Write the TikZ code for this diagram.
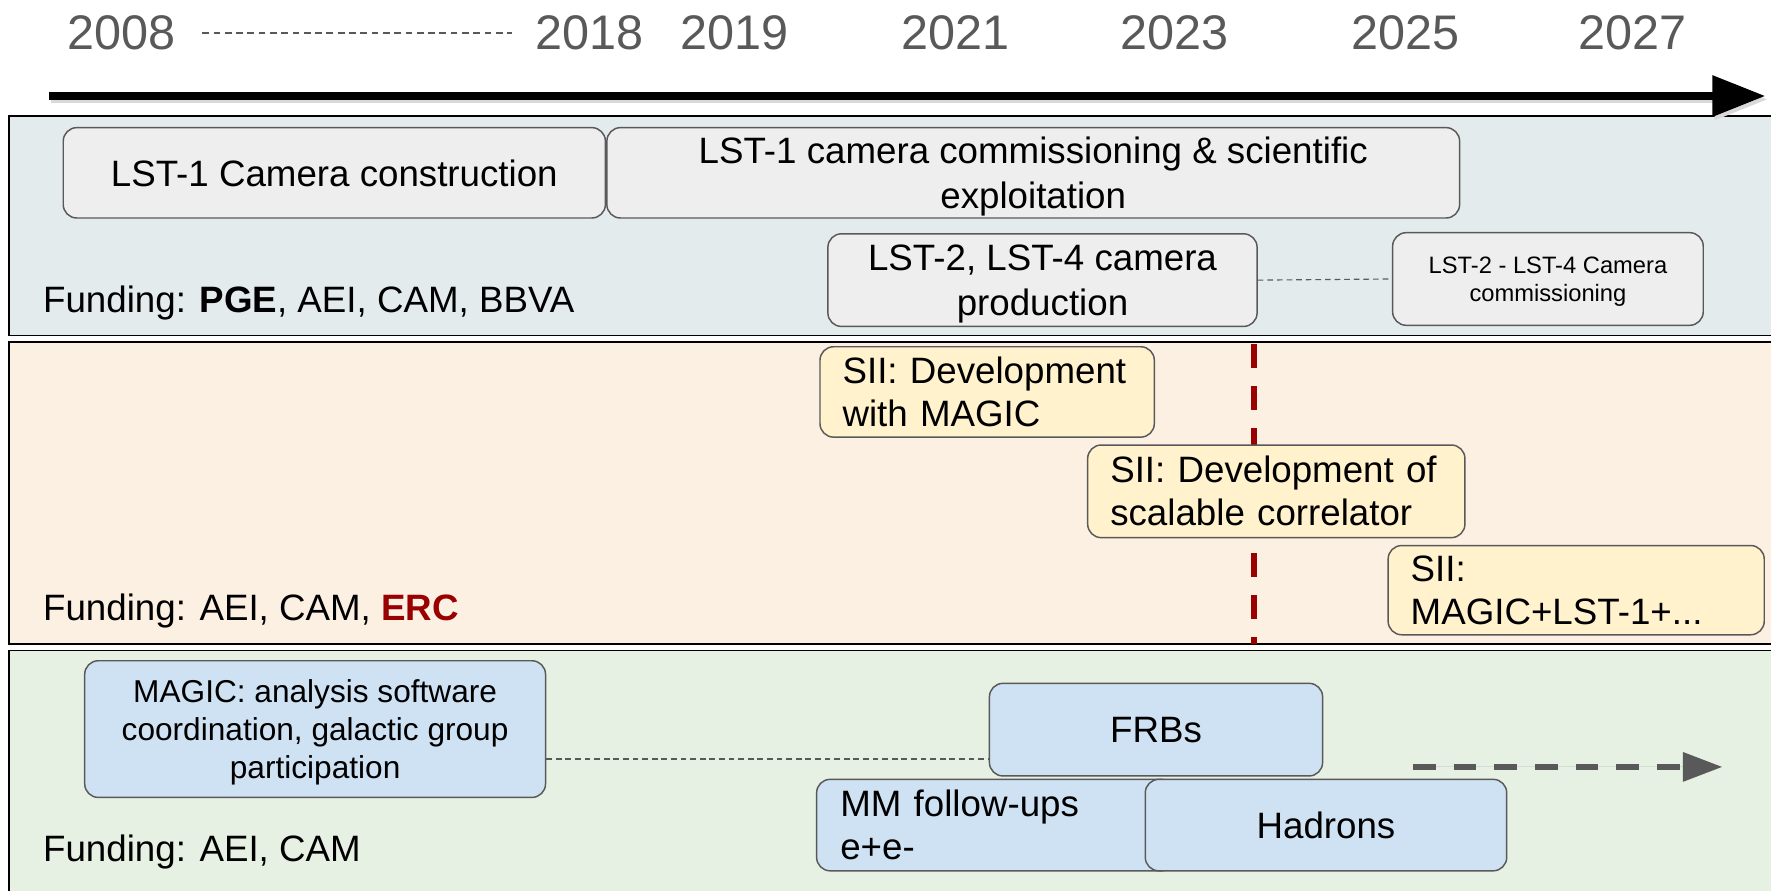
\documentclass[tikz,border=0pt]{standalone}
\usepackage{fontspec}
\setmainfont{Liberation Sans}
\usepackage{xcolor}
\usepackage{tikz}
\usetikzlibrary{arrows.meta,positioning}
\definecolor{tlGrey}{HTML}{595959}
\definecolor{tlRed}{HTML}{990000}
\definecolor{tlBandA}{HTML}{E3EBED}
\definecolor{tlBandB}{HTML}{FCF0E3}
\definecolor{tlBandC}{HTML}{E6F0E3}
\definecolor{tlBoxA}{HTML}{EEEEEE}
\definecolor{tlBoxB}{HTML}{FFF2CC}
\definecolor{tlBoxC}{HTML}{CFE2F3}
\tikzset{
  year/.style={
    anchor=base,
    inner sep=0pt,
    text=tlGrey,
    font=\fontsize{43}{50}\selectfont
  },
  band/.style={draw=black, line width=1.6pt},
  task/.style={
    draw=tlGrey,
    line width=1.3pt,
    rounded corners=12pt,
    align=center,
    inner sep=0pt,
    font=\fontsize{32.5}{40}\selectfont
  },
  lstbox/.style={task, fill=tlBoxA, text depth=0pt},
  siibox/.style={
    task,
    fill=tlBoxB,
    align=left,
    inner xsep=20pt,
    font=\fontsize{32.5}{38}\selectfont
  },
  magbox/.style={task, fill=tlBoxC, text depth=0pt},
  funding/.style={
    anchor=base west,
    inner sep=0pt,
    font=\fontsize{32.5}{40}\selectfont
  },
  link/.style={draw=tlGrey, line width=1pt, dash pattern=on 5pt off 3.5pt},
  timeaxis/.style={-{Triangle[length=47pt,width=35pt]}, line width=7pt},
  futurearrow/.style={
    -{Triangle[length=35pt,width=25pt]},
    draw=tlGrey,
    fill=tlGrey,
    line width=5pt,
    dash pattern=on 20pt off 16pt
  },
  nowline/.style={draw=tlRed, line width=5pt, dash pattern=on 21pt off 16pt}
}

\begin{document}
\begin{tikzpicture}[x=1pt, y=-1pt, node distance=0pt]
  \clip (0,0) rectangle (1568,788);

  % bands
  \draw[band, fill=tlBandA] (8,103) rectangle (1600,297);
  \draw[band, fill=tlBandB] (8,303) rectangle (1600,570);
  \draw[band, fill=tlBandC] (8,576) rectangle (1600,820);

  % years
  \node[year] (y2008) at (108,44) {2008};
  \node[year] (y2018) at (522,44) {2018};
  \node[year] (y2019) at (650,44) {2019};
  \node[year] (y2021) at (846,44) {2021};
  \node[year] (y2023) at (1040,44) {2023};
  \node[year] (y2025) at (1244,44) {2025};
  \node[year] (y2027) at (1445,44) {2027};
  \draw[link, dash pattern=on 6pt off 4pt, shorten <=23pt, shorten >=21pt] (y2008.east) -- (y2018.west);

  \coordinate (axisL) at (43,85);
  \coordinate (axisR) at (1563,85);
  \draw[timeaxis, black!15] ([shift={(2,3)}]axisL) -- ([shift={(2,3)}]axisR);
  \draw[timeaxis] (axisL) -- (axisR);

  % LST cameras
  \node[lstbox, minimum width=480pt, minimum height=80pt] (construction) at (296,153) {LST-1 Camera construction};
  \node[lstbox, minimum width=755pt, minimum height=80pt, right=of construction] (commissioning) {LST-1 camera commissioning \& scientific\\exploitation};
  \node[lstbox, minimum width=380pt, minimum height=82pt] (production) at (923,248) {LST-2, LST-4 camera\\production};
  \node[lstbox, minimum width=275pt, minimum height=82pt, font=\fontsize{21}{25}\selectfont] (commissioningB) at (1370.5,247) {LST-2 - LST-4 Camera\\commissioning};
  \draw[link] (production.east) -- (commissioningB.west);
  \node[funding] (fundLST) at (38,277) {Funding: \textbf{PGE}, AEI, CAM, BBVA};

  % SII
  \coordinate (nowTop) at (1110,305);
  \coordinate (nowBot) at (1110,570);
  \draw[nowline] (nowTop) -- (nowBot);
  \node[siibox, text width=256pt, minimum height=80pt] (siiMagic) at (874,347) {SII: Development\\with MAGIC};
  \node[siibox, text width=294pt, minimum height=82pt] (siiCorr) at (1130,435) {SII: Development of\\scalable correlator};
  \node[siibox, text width=293pt, minimum height=79pt] (siiArray) at (1395.5,522.5) {SII:\\MAGIC+LST-1+...};
  \node[funding] (fundSII) at (38,549) {Funding: AEI, CAM, \textcolor{tlRed}{\textbf{ERC}}};

  % MAGIC science
  \node[magbox, minimum width=408pt, minimum height=121pt, font=\fontsize{28}{34}\selectfont] (magic) at (279,645.5) {MAGIC: analysis software\\coordination, galactic group\\participation};
  \node[magbox, minimum width=295pt, minimum height=82pt] (frbs) at (1023.5,646) {FRBs};
  \draw[link] ([yshift=-26.5pt]magic.east) -- ([yshift=-26pt]frbs.west);
  \node[siibox, fill=tlBoxC, inner xsep=21pt, text width=275pt, minimum height=81pt] (followups) at (881.5,730.5) {MM follow-ups\\e+e-};
  \node[magbox, minimum width=320pt, minimum height=81pt] (hadrons) at (1174,730.5) {Hadrons};
  \coordinate (futL) at (1251,679);
  \coordinate (futR) at (1525,679);
  \draw[futurearrow] (futL) -- (futR);
  \node[funding] (fundMAGIC) at (38,763) {Funding: AEI, CAM};
\end{tikzpicture}
\end{document}
